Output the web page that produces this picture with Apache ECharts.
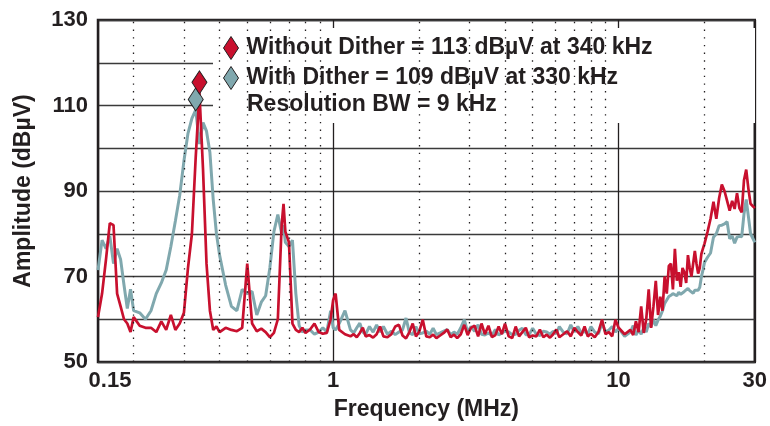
<!DOCTYPE html>
<html>
<head>
<meta charset="utf-8">
<script src="https://cdn.jsdelivr.net/npm/echarts@6/dist/echarts.min.js"></script>
<style>
    html, body { margin: 0; padding: 0; background: #fff; }
    #chart { width: 770px; height: 426px; }
</style>
</head>
<body>
<div id="chart"></div>
<script>
// frequency points (MHz), shared by both traces
const freqMHz = [
    0.150, 0.155, 0.160, 0.165, 0.170, 0.175, 0.180, 0.185, 0.190, 0.195, 0.200,
    0.21, 0.22, 0.23, 0.24, 0.25, 0.26, 0.27, 0.28, 0.29, 0.30, 0.31, 0.32, 0.33, 0.34, 0.35, 0.36, 0.37, 0.38, 0.39, 0.40,
    0.42, 0.44, 0.46, 0.48, 0.50, 0.52, 0.54, 0.56, 0.58, 0.60, 0.62, 0.64, 0.66,
    0.67,
    0.68, 0.70, 0.72, 0.74, 0.76, 0.78, 0.80,
    0.83, 0.86, 0.89, 0.92, 0.95, 0.98,
    1.00, 1.02, 1.05, 1.1,
    1.15, 1.18, 1.21, 1.24, 1.27, 1.3, 1.34, 1.38, 1.42, 1.46,
    1.5, 1.55, 1.6, 1.65, 1.7, 1.75, 1.8, 1.85, 1.9, 1.95,
    2.0, 2.06, 2.12, 2.18, 2.24, 2.3, 2.37, 2.44, 2.51, 2.58,
    2.65, 2.72, 2.8, 2.88, 2.96, 3.04, 3.13, 3.22, 3.31, 3.4,
    3.5, 3.6, 3.7, 3.8, 3.9, 4.0, 4.12, 4.24, 4.36, 4.48,
    4.6, 4.73, 4.86, 5.0, 5.15, 5.3, 5.45, 5.6, 5.75, 5.9,
    6.05, 6.2, 6.4, 6.6, 6.8, 7.0, 7.2, 7.4, 7.6, 7.8,
    8.0, 8.25, 8.5, 8.75, 9.0, 9.25, 9.5, 9.75, 10,
    10.5,
    11, 11.25, 11.5, 11.75, 12, 12.25, 12.5, 12.75, 13, 13.25, 13.5, 13.75,
    14, 14.25, 14.5, 14.75, 15, 15.25, 15.5, 15.75, 16, 16.25, 16.5, 16.75,
    17, 17.25, 17.5, 17.75, 18, 18.25, 18.5, 18.75, 19, 19.25, 19.5, 19.75, 20,
    20.5, 21, 21.5, 22, 22.5, 23, 23.5, 24, 24.5, 25,
    25.5, 26, 26.5, 27, 27.5, 28, 28.5, 29, 29.5, 30
];

// amplitude without dither (dBuV)
const withoutDither = [
    60.5, 66, 74, 82.5, 82, 66, 63, 60, 59, 57, 60.5,
    58.5, 58, 58, 57, 59.5, 57.5, 61, 57.5, 59, 61.5, 72, 80, 98, 113, 95, 73, 62, 57.5, 58.3, 57,
    58, 57.5, 57.2, 58, 73, 59, 57.2, 57.8, 57, 55.8, 56.8, 60, 82,
    87,
    80.5, 78, 59, 57.5, 57, 58, 56.8,
    57.6, 59, 57, 56.6, 56.8, 60,
    64.5, 66, 57.5, 56.5,
    56, 56.5, 55.8, 56.8, 58, 56, 56.3, 55.7, 56.5, 58.3,
    56, 55.8, 56.5, 58.3, 58.7, 56.2, 55.5, 57, 59, 56,
    57, 59.9, 56, 55.8, 56.4, 55.6, 56.2, 56.8, 57.6, 55.8,
    56.4, 55.6, 56.5, 58.7, 56.3, 58, 58.5, 56, 59, 56.5,
    58.5, 55.8, 56.3, 58.3, 56.5, 59, 56, 55.6, 58.3, 56,
    57, 58, 55.8, 56.2, 56, 57.6, 55.8, 56.4, 55.7, 56.5,
    57.6, 55.8, 56.5, 57.2, 56, 58, 57, 56.2, 58.3, 56,
    56.6, 55.8, 57, 59.9, 56.5, 57, 56, 59.9, 58,
    56.5,
    57.5, 56.3, 59.5, 57, 63, 56.8, 60, 67, 58, 63, 69, 61,
    65.3, 62, 70, 66, 72.5, 73, 67, 76.5, 69, 71, 67.6, 72,
    71, 68.5, 75, 72, 70, 73, 76, 73, 70.7, 72, 75.3, 76.5, 77.7,
    80.5, 83.5, 87.5, 83.5, 88.3, 91.5, 90, 87.7, 85.4, 87.7,
    85.8, 89.5, 86, 85, 92.5, 95, 90.5, 87, 86.5, 86
];

// amplitude with dither (dBuV)
const withDither = [
    71.5, 78.5, 76.5, 79.5, 73, 76.5, 74, 68, 62.5, 67, 62,
    61.5, 60, 62, 66, 68.5, 71.5, 77, 83, 89, 97, 103.5, 107, 109, 101, 106, 104, 99, 88, 80, 75,
    68, 63, 62, 67, 66, 66.5, 61, 64, 65.5, 72, 80.5, 84.5, 80,
    82,
    78, 77, 78.5, 66, 58.5, 57, 57.5,
    57.5, 56.5, 57, 58, 57, 62,
    58, 57.5, 59, 62,
    57.5, 56.8, 58, 59.1, 57, 56.5, 58.3, 57, 58.7, 57,
    58.3, 56.5, 57.2, 56.4, 57, 57.5, 60.3, 56.8, 56.4, 58.3,
    56.6, 56.8, 57.2, 56.5, 57.9, 56.4, 56.8, 57.2, 57.6, 56.4,
    57, 56.5, 58, 59.9, 57, 58.3, 57.2, 58.7, 56.5, 56.3,
    56.8, 56.2, 57.6, 56.3, 56.8, 57.2, 57, 56.4, 56.5, 57.4,
    57.9, 56.4, 56.4, 57.9, 56.5, 56.2, 57.2, 57, 56.5, 57.2,
    56.6, 58.3, 57, 56.6, 58.7, 57, 58.3, 56.8, 57.2, 56.6,
    58.3, 57, 56.6, 59.1, 57, 57.5, 58.3, 57, 57.9,
    56,
    57, 58.5, 56.3, 57.5, 56.5, 58, 57, 59, 58.3, 59.9, 58.5, 59.8,
    60.7, 62, 63.7, 64.5, 65.3, 65.6, 66, 66.1, 65.5, 66.3, 65.8, 65.7,
    66.5, 66.8, 67.2, 66.7, 66.3, 66.1, 66.8, 67, 66.8, 67.5, 69.9, 71.5, 73.3,
    74.5, 75.5, 79.2, 80, 81.9, 82, 82.3, 82.8, 78.8, 79.5,
    77.8, 79.2, 79.4, 79.3, 84.6, 88, 84, 80, 79, 78
];

// dotted minor gridlines (MHz)
const minorFreqs = [0.2, 0.3, 0.4, 0.5, 0.6, 0.7, 0.8, 0.9, 2, 3, 4, 5, 6, 7, 8, 9, 20];

// marked peaks [MHz, dBuV]
const peakWithout = [0.34, 113];
const peakWith = [0.33, 109];

const RED = '#c8102e';
const TEAL = '#80a8ae';
const INK = '#231f20';
const FONT = '"Liberation Sans", Arial, sans-serif';

const nameWithout = 'Without Dither = ' + peakWithout[1] + ' dBµV at ' + Math.round(peakWithout[0] * 1000) + ' kHz';
const nameWith = 'With Dither = ' + peakWith[1] + ' dBµV at ' + Math.round(peakWith[0] * 1000) + ' kHz';

const chart = echarts.init(document.getElementById('chart'), null, { renderer: 'canvas' });

chart.setOption({
    animation: false,
    backgroundColor: '#fff',
    textStyle: { fontFamily: FONT },
    grid: {
        left: 98, right: 13, top: 20, bottom: 62,
        show: true,
        borderColor: INK,
        borderWidth: 2.5,
        backgroundColor: '#fff'
    },
    legend: {
        orient: 'vertical',
        left: 223, top: 36,
        padding: 0,
        itemGap: 6,
        itemWidth: 15,
        itemHeight: 23,
        icon: 'diamond',
        itemStyle: { borderColor: INK, borderWidth: 1 },
        textStyle: { fontSize: 23, fontWeight: 'bold', color: INK, fontFamily: FONT, padding: [0, 0, 0, 3] },
        data: [nameWithout, nameWith]
    },
    graphic: [
        {
            type: 'rect',
            z: 3,
            shape: { x: 213, y: 28, width: 542, height: 95 },
            style: { fill: '#fff' }
        },
        {
            type: 'text',
            z: 5,
            x: 247, y: 105,
            style: {
                text: 'Resolution BW = 9 kHz',
                font: 'bold 23px ' + FONT,
                fill: INK,
                verticalAlign: 'middle'
            }
        }
    ],
    xAxis: {
        type: 'log',
        logBase: 10,
        min: 0.15,
        max: 30,
        axisLine: { show: false },
        axisTick: { show: false },
        splitLine: { show: true, lineStyle: { color: INK, width: 1.3 } },
        axisLabel: {
            margin: 8,
            fontSize: 22,
            fontWeight: 'bold',
            color: INK,
            formatter: v => {
                const s = String(+v.toPrecision(2));
                return v < 0.2 ? '{first|' + s + '}' : s;
            },
            rich: {
                first: { fontSize: 22, fontWeight: 'bold', color: INK, padding: [0, 0, 0, 24] }
            }
        },
        name: 'Frequency (MHz)',
        nameLocation: 'middle',
        nameGap: 36,
        nameTextStyle: { fontSize: 23, fontWeight: 'bold', color: INK }
    },
    yAxis: {
        type: 'value',
        min: 50,
        max: 130,
        interval: 10,
        axisLine: { show: false },
        axisTick: { show: false },
        splitLine: { show: true, lineStyle: { color: '#3a3a3a', width: 1.3 } },
        axisLabel: {
            margin: 10,
            fontSize: 22,
            fontWeight: 'bold',
            color: INK,
            formatter: v => ((v - 50) % 20 === 0 ? String(v) : '')
        },
        name: 'Amplitude (dBµV)',
        nameLocation: 'middle',
        nameRotate: 90,
        nameGap: 63,
        nameTextStyle: { fontSize: 23, fontWeight: 'bold', color: INK }
    },
    series: [
        {
            name: nameWith,
            type: 'line',
            z: 2,
            showSymbol: false,
            symbol: 'none',
            data: freqMHz.map((f, i) => [f, withDither[i]]),
            lineStyle: { color: TEAL, width: 3 },
            itemStyle: { color: TEAL },
            markLine: {
                silent: true,
                symbol: 'none',
                label: { show: false },
                lineStyle: { color: INK, width: 1.3, type: [1.4, 6.3] },
                data: minorFreqs.map(f => ({ xAxis: f }))
            },
            markPoint: {
                symbol: 'diamond',
                symbolSize: [15, 23],
                symbolOffset: [0, '-45%'],
                label: { show: false },
                itemStyle: { color: TEAL, borderColor: INK, borderWidth: 1 },
                data: [{ coord: peakWith }]
            }
        },
        {
            name: nameWithout,
            type: 'line',
            z: 2,
            showSymbol: false,
            symbol: 'none',
            data: freqMHz.map((f, i) => [f, withoutDither[i]]),
            lineStyle: { color: RED, width: 2.7 },
            itemStyle: { color: RED },
            markPoint: {
                symbol: 'diamond',
                symbolSize: [15, 23],
                symbolOffset: [0, '-45%'],
                label: { show: false },
                itemStyle: { color: RED, borderColor: INK, borderWidth: 1 },
                data: [{ coord: peakWithout }]
            }
        }
    ]
});
</script>
</body>
</html>
